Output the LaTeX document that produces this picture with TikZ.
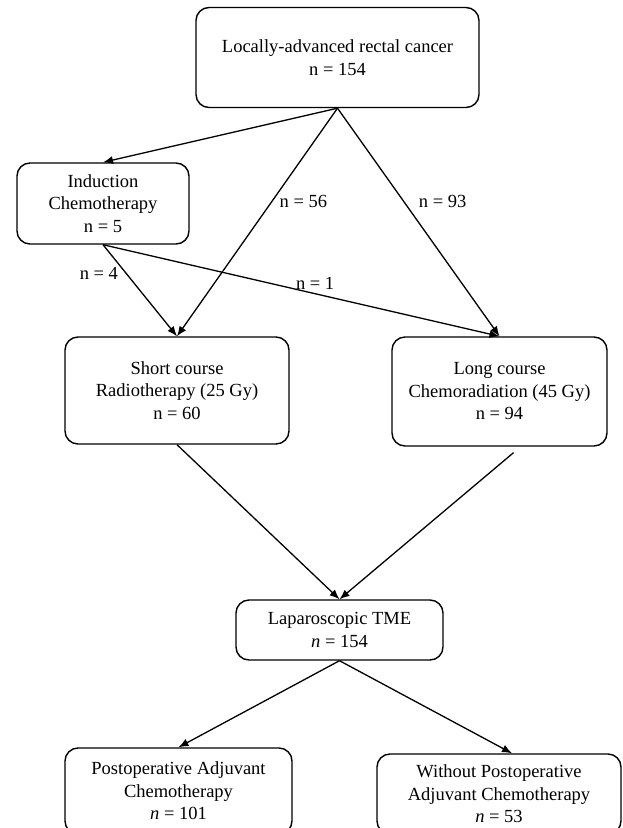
\documentclass[tikz,border=0pt]{standalone}
\usepackage{fontspec}
\setmainfont{Liberation Serif}
\usetikzlibrary{arrows.meta}

\begin{document}
\begin{tikzpicture}[x=1pt, y=-1pt]
      \tikzstyle{box} =  [draw, line width=1.4pt, rounded corners=13pt, align=center, inner sep=0pt, font=\fontsize{18.5}{22.5}\selectfont]
      \tikzstyle{link} =  [line width=1.3pt, -{Latex[length=10pt, width=8pt]}]
      \tikzstyle{count} =  [font=\fontsize{18.5}{22.5}\selectfont]

      \clip (0,0) rectangle (622,828);

      \node (rectal) [box, minimum width=283pt, minimum height=100pt] at (337.5,57.5) {Locally-advanced rectal cancer\\n = 154};
      \node (induction) [box, minimum width=172pt, minimum height=81pt] at (103,203.5) {Induction\\Chemotherapy\\n = 5};
      \node (shortRT) [box, minimum width=224pt, minimum height=107pt] at (177,390.5) {Short course\\Radiotherapy (25 Gy)\\n = 60};
      \node (longCRT) [box, minimum width=215pt, minimum height=109pt] at (499.5,391.5) {Long course\\Chemoradiation (45 Gy)\\n = 94};
      \node (tme) [box, minimum width=207pt, minimum height=60pt] at (339.5,630) {Laparoscopic TME\\\textit{n} = 154};
      \node (adjuvant) [box, minimum width=227pt, minimum height=86pt] at (178.5,791) {Postoperative Adjuvant\\Chemotherapy\\\textit{n} = 101};
      \node (noAdjuvant) [box, minimum width=244pt, minimum height=80pt] at (499,794) {Without Postoperative\\Adjuvant Chemotherapy\\\textit{n} = 53};

      \draw [link] (rectal.south) -- (induction.north);
      \draw [link] (rectal.south) -- node (n56) [count, pos=0.41, anchor=west, xshift=4pt] {n = 56} (shortRT.north);
      \draw [link] (rectal.south) -- node (n93) [count, pos=0.41, anchor=west, xshift=11pt] {n = 93} (longCRT.north);
      \draw [link] (induction.south) -- node (n4) [count, pos=0.31, anchor=east, xshift=-4pt] {n = 4} (shortRT.north);
      \draw [link] (induction.south) -- node (n1) [count, pos=0.535, anchor=south] {n = 1} (longCRT.north);

      \draw [link] (shortRT.south) -- (tme.north);
      \draw [link] ([xshift=14pt, yshift=-6pt]longCRT.south) -- (tme.north);
      \draw [link] (tme.south) -- (adjuvant.north);
      \draw [link] (tme.south) -- ([xshift=13pt]noAdjuvant.north);
    \end{tikzpicture}
\end{document}
